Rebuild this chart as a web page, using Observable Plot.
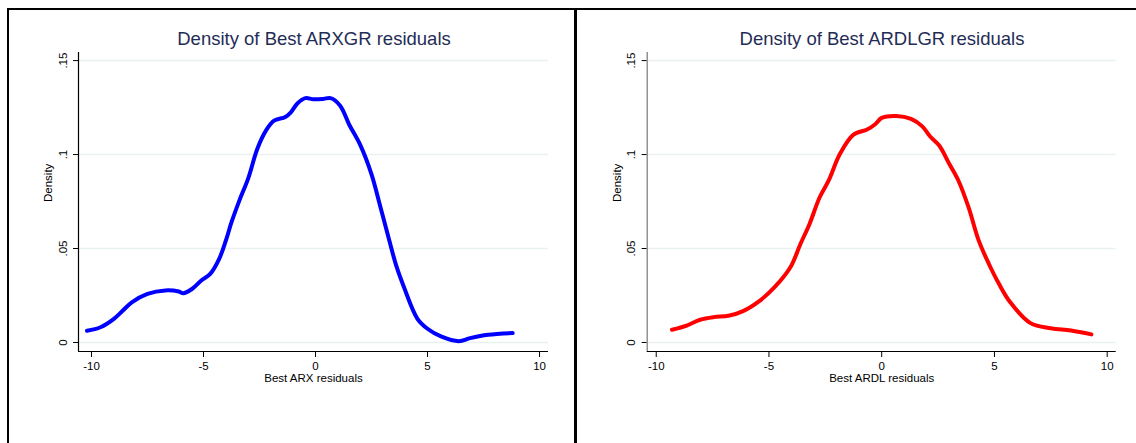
<!DOCTYPE html>
<html>
<head>
<meta charset="utf-8">
<script src="https://cdn.jsdelivr.net/npm/d3@7"></script>
<script src="https://cdn.jsdelivr.net/npm/@observablehq/plot@0.6"></script>
<style>
  html, body { margin: 0; padding: 0; background: #fff; overflow: hidden; }
  #page { position: relative; width: 1136px; height: 443px; font-family: "Liberation Sans", Arial, sans-serif; }
  #frame { position: absolute; left: 7px; top: 8px; width: 1140px; height: 460px; border: 2.5px solid #000; box-sizing: border-box; }
  #divider { position: absolute; left: 574px; top: 8px; width: 2.5px; height: 460px; background: #000; }
  .title { position: absolute; font-size: 18.5px; line-height: 20px; color: #1f2d56; text-align: center; white-space: nowrap; transform: translateX(-50%); }
  .panel { position: absolute; }
</style>
</head>
<body>
<div id="page">
  <div id="frame"></div>
  <div id="divider"></div>
  <div class="title" style="left:314px; top:29px;">Density of Best ARXGR residuals</div>
  <div class="title" style="left:882px; top:29px;">Density of Best ARDLGR residuals</div>
  <div class="panel" id="p1" style="left:9px; top:30px;"></div>
  <div class="panel" id="p2" style="left:577px; top:30px;"></div>
</div>
<script>
// Left panel: Best ARX residuals (kernel density)
const arxX = [-10.2, -9.6, -9.0, -8.6, -8.2, -7.5, -6.7, -6.1, -5.9, -5.5, -5.1, -4.7, -4.3, -4.0, -3.75, -3.4, -3.0, -2.6, -2.2, -1.85, -1.35, -1.1, -0.8, -0.45, -0.1, 0.35, 0.67, 1.1, 1.5, 2.0, 2.5, 2.9, 3.3, 3.6, 3.95, 4.55, 5.0, 5.6, 6.4, 6.9, 7.7, 8.8];
const arxY = [0.0062, 0.0081, 0.0126, 0.017, 0.0214, 0.0259, 0.0277, 0.0271, 0.0262, 0.0286, 0.0330, 0.0365, 0.0445, 0.0543, 0.064, 0.0755, 0.0875, 0.103, 0.113, 0.118, 0.120, 0.1225, 0.1273, 0.130, 0.1294, 0.1296, 0.1300, 0.126, 0.116, 0.105, 0.0895, 0.072, 0.054, 0.041, 0.0294, 0.0126, 0.0073, 0.0032, 0.0007, 0.0023, 0.0041, 0.005];

// Right panel: Best ARDL residuals
const ardlX = [-9.3, -8.65, -8.05, -7.45, -6.8, -6.15, -5.4, -4.75, -4.05, -3.6, -3.2, -2.75, -2.35, -1.85, -1.25, -0.65, -0.3, 0.0, 0.65, 1.3, 1.8, 2.15, 2.55, 3.0, 3.4, 3.85, 4.3, 4.75, 5.2, 5.7, 6.6, 7.5, 8.4, 9.3];
const ardlY = [0.0068, 0.009, 0.0121, 0.0135, 0.0142, 0.0167, 0.0223, 0.0294, 0.040, 0.0525, 0.0631, 0.0773, 0.0862, 0.1004, 0.1106, 0.1133, 0.116, 0.1195, 0.1205, 0.119, 0.115, 0.1096, 0.1048, 0.095, 0.0862, 0.072, 0.0543, 0.0419, 0.0312, 0.0214, 0.0103, 0.0076, 0.0064, 0.0043];

const xTicks = [-10, -5, 0, 5, 10];
const yTicks = [0, 0.05, 0.1, 0.15];
const yTickLabels = ["0", ".05", ".1", ".15"];

function panel(xs, ys, color, xLabel, xDomain, width, marginLeft, marginRight, yAxisColor) {
  const data = xs.map((x, i) => ({x, y: ys[i]}));
  const yDomain = [-0.0048, 0.1543];
  return Plot.plot({
    width, height: 370,
    marginLeft, marginRight, marginTop: 22, marginBottom: 49,
    style: {fontFamily: "Liberation Sans, Arial, sans-serif", fontSize: "12px", color: "#000", background: "transparent"},
    x: {domain: xDomain, axis: null},
    y: {domain: yDomain, axis: null},
    marks: [
      Plot.ruleY(yTicks, {stroke: "#eaf1f1", strokeWidth: 1.5}),
      Plot.axisX(xTicks, {tickSize: 6, tickPadding: 4, fontSize: 11.5, stroke: "#000", label: null, tickFormat: d => String(d)}),
      Plot.axisY(yTicks, {tickSize: 5, tickFormat: () => "", label: null, stroke: "#000"}),
      Plot.text(yTicks, {x: xDomain[0], y: d => d, text: (d, i) => yTickLabels[i], rotate: -90, dx: -15.5, fontSize: 11.5, fill: "#000"}),
      Plot.ruleX([xDomain[0]], {stroke: yAxisColor, strokeWidth: 1.2}),
      Plot.ruleY([yDomain[0]], {stroke: "#000", strokeWidth: 1.2}),
      Plot.line(data, {x: "x", y: "y", stroke: color, strokeWidth: 4, curve: "catmull-rom"}),
      Plot.text(["Density"], {frameAnchor: "left", dx: -30, rotate: -90, fontSize: 11.5, fill: "#000"}),
      Plot.text([xLabel], {frameAnchor: "bottom", dy: 30.5, fontSize: 11.5, fill: "#000"})
    ]
  });
}

document.getElementById("p1").appendChild(panel(arxX, arxY, "#0000ff", "Best ARX residuals", [-10.58, 10.4], 560, 69, 21, "#000"));
document.getElementById("p2").appendChild(panel(ardlX, ardlY, "#ff0000", "Best ARDL residuals", [-10.4, 10.4], 556, 69.7, 17.3, "#777"));
</script>
</body>
</html>
